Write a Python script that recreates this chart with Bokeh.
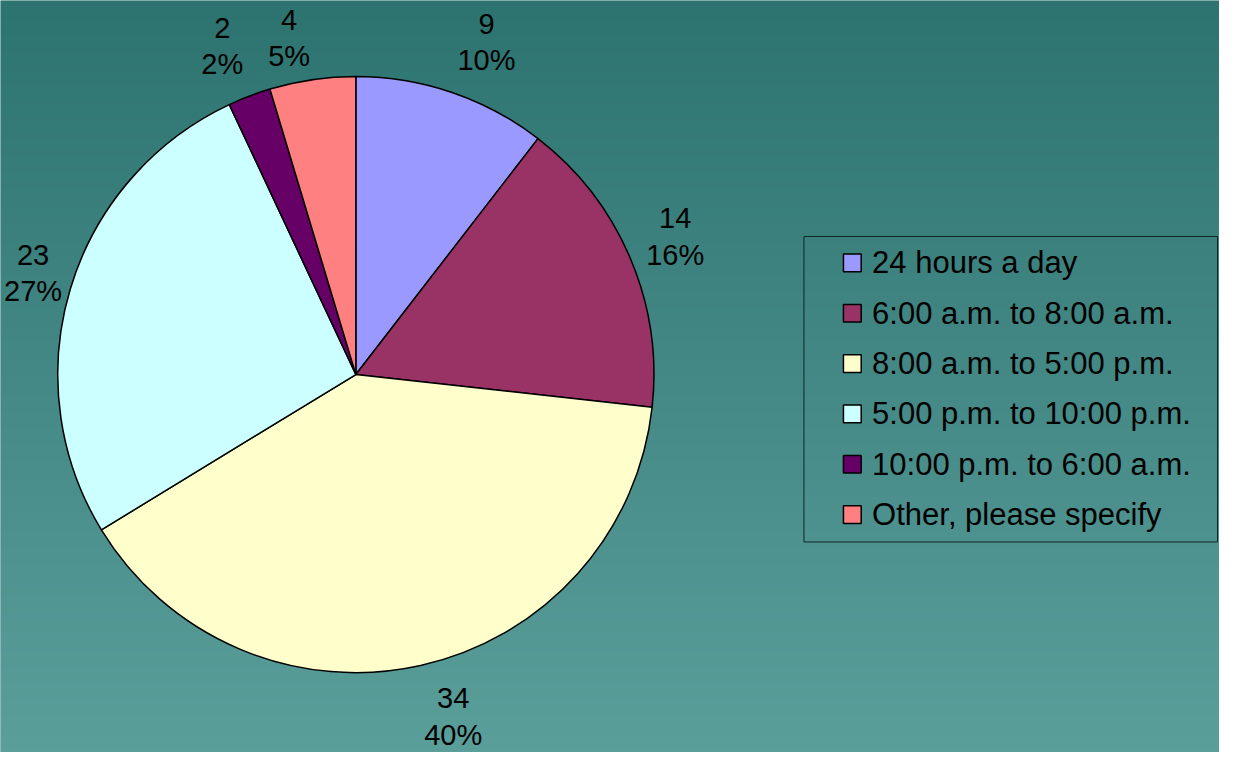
import numpy as np
from bokeh.plotting import figure
from bokeh.models import Range1d
from bokeh.core.properties import value
from bokeh.embed import file_html
from bokeh.resources import INLINE

# ---- data ----
categories = ["24 hours a day", "6:00 a.m. to 8:00 a.m.", "8:00 a.m. to 5:00 p.m.",
              "5:00 p.m. to 10:00 p.m.", "10:00 p.m. to 6:00 a.m.", "Other, please specify"]
counts = [9, 14, 34, 23, 2, 4]
colors = ["#9999FF", "#993366", "#FFFFCC", "#CCFFFF", "#660066", "#FF8080"]

# ---- layout (reference-pixel coordinates, y up) ----
W, H = 1219, 752
XW, YH = 1235, 768
FONT = "Liberation Sans"
p = figure(width=W, height=H, x_range=Range1d(0, XW), y_range=Range1d(0, YH),
           output_backend="svg", toolbar_location=None, min_border=0,
           outline_line_color=None)
p.axis.visible = False
p.grid.visible = False
p.background_fill_color = "#468884"
p.border_fill_color = "#468884"

# background vertical gradient
top = np.array([45, 115, 112])
bot = np.array([91, 159, 155])
n = 256
t = np.linspace(0, 1, n)[:, None]  # row 0 = bottom
rgb = (bot * (1 - t) + top * t).astype(np.uint32)
img = np.empty((n, 1), dtype=np.uint32)
view = img.view(dtype=np.uint8).reshape((n, 1, 4))
view[:, 0, 0] = rgb[:, 0]
view[:, 0, 1] = rgb[:, 1]
view[:, 0, 2] = rgb[:, 2]
view[:, 0, 3] = 255
p.image_rgba(image=[img], x=0, y=0, dw=XW, dh=YH)

# ---- pie ----
cx, cy, R = 360, 386, 302
vals = np.array(counts, dtype=float)
total = vals.sum()
frac = vals / total
cum = np.cumsum(frac)
prev = cum - frac
start = np.pi / 2 - 2 * np.pi * prev
end = np.pi / 2 - 2 * np.pi * cum
p.wedge(x=cx, y=cy, radius=R, start_angle=start, end_angle=end, direction="clock",
        fill_color=colors, line_color="black", line_width=1.5)

# ---- data labels ----
LFS = 29
pct = [f"{int(round(f * 100))}%" for f in frac]
cnt = [str(c) for c in counts]

def text_w(s):
    return sum(0.889 * LFS if ch == "%" else 0.556 * LFS for ch in s)

mid = 2 * np.pi * (prev + frac / 2)  # clockwise from top
r0 = 320
half_h = 37
lx, ly = [], []
for i, a in enumerate(mid):
    s, c = np.sin(a), np.cos(a)
    px, py = cx + r0 * s, cy + r0 * c
    w = max(text_w(cnt[i]), text_w(pct[i]))
    ox = np.sign(s) * w / 2
    oy = np.clip(c / max(abs(s), 1e-6), -1, 1) * half_h
    x = max(px + ox, w / 2 + 4)
    y = min(py + oy, YH - 20 - 18.5)
    lx.append(x)
    ly.append(y)
lx = np.array(lx)
ly = np.array(ly)
p.text(x=lx, y=ly + 18.5, text=cnt, text_align="center", text_baseline="middle",
       text_font=value(FONT), text_font_size=f"{LFS}px", text_color="black")
p.text(x=lx, y=ly - 18.5, text=pct, text_align="center", text_baseline="middle",
       text_font=value(FONT), text_font_size=f"{LFS}px", text_color="black")

# ---- legend (drawn manually) ----
box_l, box_r, box_t, box_b = 814, 1233, YH - 241, YH - 553
p.quad(left=[box_l], right=[box_r], top=[box_t], bottom=[box_b],
       fill_color=None, line_color="#0d2626", line_width=1)
rows = box_t - 27 - 51.4 * np.arange(len(categories))
p.rect(x=[863] * len(categories), y=rows, width=18, height=18,
       fill_color=colors, line_color="black", line_width=1.5)
p.text(x=[883] * len(categories), y=rows, text=categories, text_align="left",
       text_baseline="middle", text_font=value(FONT), text_font_size="31px",
       text_color="black")

open("out.html", "w").write(file_html(p, INLINE))
